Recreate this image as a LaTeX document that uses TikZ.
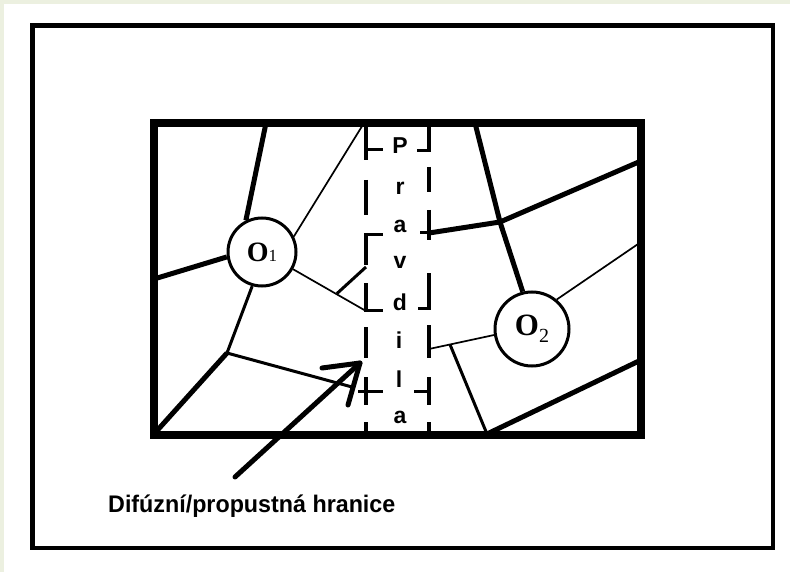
\documentclass[tikz,border=0pt]{standalone}
\usepackage{fontspec}
\setmainfont{Liberation Sans}
\newfontfamily\oserif{Liberation Serif}
\definecolor{cream}{RGB}{236,240,224}
\tikzset{
  thickedge/.style={line width=5pt},
  midedge/.style={line width=3pt},
  thinedge/.style={line width=1.7pt},
  dashseg/.style={line width=3.5pt},
  tickseg/.style={line width=3pt},
  cell/.style={draw, circle, line width=3pt, fill=white, inner sep=0pt},
  letter/.style={font=\bfseries\fontsize{23}{23}\selectfont, anchor=base, inner sep=0pt},
  arrowline/.style={line width=5pt, line cap=round, line join=round}
}
\begin{document}
\begin{tikzpicture}[x=1pt,y=-1pt]
\useasboundingbox (0,0) rectangle (790,572);
\fill[cream] (0,0) rectangle (790,572);
\fill[white] (4,4) rectangle (790,572);
% outer frame
\draw[line width=4.5pt] (32.5,25.5) rectangle (773,548);

% vertices / border points
\coordinate (t1) at (266,123);
\coordinate (l1) at (154,279);
\coordinate (t2) at (364,123);
\coordinate (d1) at (366,311);
\coordinate (b1) at (337,293.5);
\coordinate (b2) at (366,267);
\coordinate (v1) at (227,353);
\coordinate (c1) at (154,434);
\coordinate (e1) at (352,387);
\coordinate (t3) at (475,123);
\coordinate (v2) at (500,222);
\coordinate (r1) at (429,233);
\coordinate (r2) at (641,161);
\coordinate (r3) at (641,242);
\coordinate (r4) at (429,349);
\coordinate (b3) at (450,344.5);
\coordinate (c2) at (487,434);
\coordinate (r5) at (641,360);

% cells
\node[cell, minimum size=68pt] (O1) at (262,252) {{\oserif\bfseries\fontsize{28}{28}\selectfont O}{\oserif\fontsize{17}{17}\selectfont 1}};
\node[cell, minimum size=74pt] (O2) at (532,329) {{\oserif\bfseries\fontsize{31}{31}\selectfont O}{\oserif\fontsize{20}{20}\selectfont\raisebox{-7pt}{2}}};

% left region edges
\draw[thickedge] (O1.117) -- (t1);
\draw[thickedge] (O1.188) -- (l1);
\draw[thinedge] (O1.26) -- (t2);
\draw[thinedge] (O1.331) -- (d1);
\draw[midedge] (b1) -- (b2);
\draw[midedge] (O1.254) -- (v1);
\draw[thickedge] (v1) -- (c1);
\draw[midedge] (v1) -- (e1);

% right region edges
\draw[thickedge] (t3) -- (v2);
\draw[thickedge] (v2) -- (O2.104);
\draw[thickedge] (v2) -- (r1);
\draw[thickedge] (v2) -- (r2);
\draw[thinedge] (O2.50) -- (r3);
\draw[thinedge] (O2.189) -- (r4);
\draw[midedge] (b3) -- (c2);
\draw[thickedge] (c2) -- (r5);

% dashed boundary (left line x=366)
\draw[dashseg] (366,127) -- (366,160);
\draw[dashseg] (366,180) -- (366,215);
\draw[dashseg] (366,233) -- (366,265);
\draw[dashseg] (366,283) -- (366,312);
\draw[dashseg] (366,327) -- (366,358);
\draw[dashseg] (366,377) -- (366,405);
\draw[dashseg] (366,422) -- (366,432);
\draw[tickseg] (366,150) -- (383,150);
\draw[tickseg] (364.5,234.5) -- (383,234.5);
\draw[tickseg] (364.5,310.5) -- (383,310.5);
\draw[tickseg] (358,391) -- (383,391);
% dashed boundary (right line x=429)
\draw[dashseg] (429,127) -- (429,152);
\draw[dashseg] (429,167) -- (429,192);
\draw[dashseg] (429,210) -- (429,240);
\draw[dashseg] (429,273) -- (429,310);
\draw[dashseg] (429,325) -- (429,358);
\draw[dashseg] (429,377) -- (429,405);
\draw[dashseg] (429,422) -- (429,432);
\draw[tickseg] (417,150.5) -- (430.5,150.5);
\draw[tickseg] (420,233) -- (429,233);
\draw[tickseg] (418,308.5) -- (430.5,308.5);
\draw[tickseg] (414,391) -- (429,391);

% letters
\node[letter] (p1) at (400,154) {P};
\node[letter] (p2) at (400,195) {r};
\node[letter] (p3) at (400,233) {a};
\node[letter] (p4) at (400,269) {v};
\node[letter] (p5) at (400,310) {d};
\node[letter] (p6) at (399,348) {i};
\node[letter] (p7) at (399,387) {l};
\node[letter] (p8) at (400,423) {a};

% inner frame
\draw[line width=8pt] (154,123) rectangle (641,434.5);

% arrow
\coordinate (atail) at (235,477);
\coordinate (atip) at (360,363);
\coordinate (barbA) at (322,368);
\coordinate (barbB) at (348,405);
\draw[arrowline] (atail) -- (atip);
\draw[arrowline] (barbA) -- (atip) -- (barbB);

% caption
\node[anchor=base west, inner sep=0pt] (cap) at (108,512) {\scalebox{0.97}[1]{\bfseries\fontsize{24}{24}\selectfont Difúzní/propustná hranice}};
\end{tikzpicture}
\end{document}
